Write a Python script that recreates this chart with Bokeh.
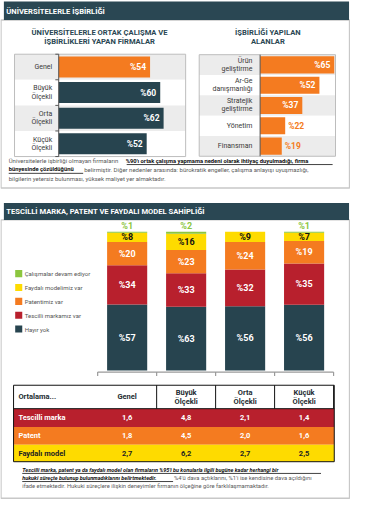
from bokeh.plotting import figure
from bokeh.models import Range1d, ColumnDataSource
from bokeh.embed import file_html
from bokeh.resources import INLINE
from bokeh.core.properties import value

# ---------------- data ----------------
firm_sizes = ["Genel", "Büyük\nÖlçekli", "Orta\nÖlçekli", "Küçük\nÖlçekli"]
coop_share = [54, 60, 62, 52]

areas = ["Ürün\ngeliştirme", "Ar-Ge\ndanışmanlığı", "Stratejik\ngeliştirme", "Yönetim", "Finansman"]
area_share = [65, 52, 37, 22, 19]

ip_categories = ["Genel", "Büyük Ölçekli", "Orta Ölçekli", "Küçük Ölçekli"]
ip_series = ["Hayır yok", "Tescilli markamız var", "Patentimiz var",
             "Faydalı modelimiz var", "Çalışmalar devam ediyor"]
hayir_yok = [57, 63, 56, 56]
marka_var = [34, 33, 32, 35]
patent_var = [20, 23, 24, 19]
faydali_var = [8, 16, 9, 7]
devam_ediyor = [1, 2, 0, 1]

table_header = ["Ortalama...", "Genel", "Büyük\nÖlçekli", "Orta\nÖlçekli", "Küçük\nÖlçekli"]
table_rows = ["Tescilli marka", "Patent", "Faydalı model"]
avg_marka = [1.6, 4.8, 2.1, 1.4]
avg_patent = [1.8, 4.5, 2.0, 1.6]
avg_faydali = [2.7, 6.2, 2.7, 2.5]

# ---------------- style ----------------
DARK = "#27444f"
HEAD = "#2a4753"
ORANGE = "#f47b20"
RED = "#b8202d"
YELLOW = "#fedb00"
GREEN = "#8cc63f"
ROWGREY = "#ececec"
BORDER = "#c8c8c8"
FONT = "Roboto"
HFONT = "Roboto"

XMIN, XMAX = 1.5, 363.5
YMIN, YMAX = 1.0, 512.0

p = figure(width=350, height=499, x_range=Range1d(XMIN, XMAX), y_range=Range1d(YMAX, YMIN),
           output_backend="svg", toolbar_location=None, min_border=0,
           x_axis_location=None, y_axis_location=None, outline_line_color=None,
           background_fill_color="white", border_fill_color="white")
p.grid.visible = False


def txt(x, y, s, size, color, align="left", bold=False, italic=False, font=FONT,
        xr="default", yr="default", xoff=0, yoff=0, lh=None):
    style = ("bold " if bold else "") + ("italic" if italic else "")
    style = style.strip() or "normal"
    lines = s.split("\n")
    n = len(lines)
    lh = lh or size * 1.15
    for k, line in enumerate(lines):
        p.text(x=[x], y=[y], text=[line], x_range_name=xr, y_range_name=yr,
               text_font=value(font), text_font_size=f"{size}px", text_color=color,
               text_align=align, text_baseline="middle", text_font_style=style,
               x_offset=xoff, y_offset=yoff + (k - (n - 1) / 2) * lh)


def box(l, r, t, b, fill=None, line=None, lw=1, xr="default", yr="default"):
    p.quad(left=l, right=r, top=t, bottom=b, fill_color=fill, line_color=line,
           line_width=lw, x_range_name=xr, y_range_name=yr)


# ================= SECTION 1 =================
box(2, 362.5, 21, 193, fill=None, line=BORDER, lw=1.4)
box(5, 362, 2, 21, fill=HEAD)
txt(7.5, 11.8, "ÜNİVERSİTELERLE İŞBİRLİĞİ", 7.6, "white", bold=True, font=HFONT)

txt(104, 38.5, "ÜNİVERSİTELERLE ORTAK ÇALIŞMA VE\nİŞBİRLİKLERİ YAPAN FİRMALAR", 7.6, HEAD,
    align="center", bold=True, font=HFONT, lh=8.6)
txt(278, 38.5, "İŞBİRLİĞİ YAPILAN\nALANLAR", 7.6, HEAD, align="center", bold=True,
    font=HFONT, lh=8.6)

# ---- left horizontal bar chart ----
LX0, LXS = 61.7, 1.75
LY0, LYS = 56.0, 26.2
p.extra_x_ranges["lx"] = Range1d((XMIN - LX0) / LXS, (XMAX - LX0) / LXS)
p.extra_y_ranges["ly"] = Range1d((YMAX - LY0) / LYS, (YMIN - LY0) / LYS)
nL = len(firm_sizes)
for i in range(nL):
    box(16, 193, i, i + 1, fill=ROWGREY if i % 2 == 0 else "white", yr="ly")
srcL = ColumnDataSource(dict(
    y=[i + 0.5 for i in range(nL)], v=coop_share,
    c=[ORANGE] + [DARK] * (nL - 1),
    lab=[f"%{v}" for v in coop_share]))
p.hbar(y="y", left=0, right="v", height=0.82, fill_color="c", line_color=None,
       source=srcL, x_range_name="lx", y_range_name="ly")
p.text(x="v", y="y", text="lab", source=srcL, x_range_name="lx", y_range_name="ly",
       text_font=value(FONT), text_font_size="8.5px", text_font_style="bold",
       text_color="white", text_align="right", text_baseline="middle", x_offset=-4)
box(16, 193, 0, nL, fill=None, line="#bdbdbd", lw=1, yr="ly")
p.segment(x0=0, y0=0, x1=0, y1=nL, x_range_name="lx", y_range_name="ly",
          line_color="#555555", line_width=1)
p.segment(x0=[LX0 - 3.5] * (nL + 1), y0=list(range(nL + 1)), x1=[LX0] * (nL + 1),
          y1=list(range(nL + 1)), y_range_name="ly", line_color="#555555", line_width=1)
for i, lab in enumerate(firm_sizes):
    txt(55, i + 0.5, lab, 7, "#3a3a3a", align="right", yr="ly", lh=8.2)

# ---- right horizontal bar chart ----
RX0, RXS = 270.0, 1.18
RY0, RYS = 56.5, 20.8
p.extra_x_ranges["rx"] = Range1d((XMIN - RX0) / RXS, (XMAX - RX0) / RXS)
p.extra_y_ranges["ry"] = Range1d((YMAX - RY0) / RYS, (YMIN - RY0) / RYS)
nR = len(areas)
for i in range(nR):
    box(207, 348, i, i + 1, fill=ROWGREY if i % 2 == 0 else "white", yr="ry")
p.hbar(y=[i + 0.5 for i in range(nR)], left=0, right=area_share, height=0.84,
       fill_color=ORANGE, line_color=None, x_range_name="rx", y_range_name="ry")
for i, v in enumerate(area_share):
    inside = v >= 30
    p.text(x=[v], y=[i + 0.5], text=[f"%{v}"], x_range_name="rx", y_range_name="ry",
           text_font=value(FONT), text_font_size="8.5px", text_font_style="bold",
           text_color="white" if inside else ORANGE,
           text_align="right" if inside else "left", text_baseline="middle",
           x_offset=-4 if inside else 3)
box(207, 348, 0, nR, fill=None, line="#bdbdbd", lw=1, yr="ry")
p.segment(x0=0, y0=0, x1=0, y1=nR, x_range_name="rx", y_range_name="ry",
          line_color="#555555", line_width=1)
for i, lab in enumerate(areas):
    txt(262, i + 0.5, lab, 7, "#3a3a3a", align="right", yr="ry", lh=8.0)

# ---- footnote 1 ----
FN = "#5a5a5a"
txt(10, 165, "Üniversitelerle işbirliği olmayan firmaların ", 6, FN)
txt(131, 165, " %90'ı ortak çalışma yapmama nedeni olarak ihtiyaç duyulmadığı, firma",
    5.8, "#111111", bold=True)
txt(10, 174, "bünyesinde çözüldüğünü", 5.8, "#111111", bold=True)
txt(88, 174, " belirmiştir. Diğer nedenler arasında: bürokratik engeller, çalışma anlayışı uyuşmazlığı,",
    6, FN)
txt(10, 183, "bilgilerin yetersiz bulunması, yüksek maliyet yer almaktadır.", 6, FN)
p.segment(x0=[132, 10], y0=[169, 178], x1=[345, 87], y1=[169, 178],
          line_color="#111111", line_width=0.8)

# ================= SECTION 2 =================
box(2, 362.5, 225.7, 510.7, fill=None, line=BORDER, lw=1.4)
box(5, 362, 208.3, 225.7, fill=HEAD)
txt(7.5, 217.2, "TESCİLLİ MARKA, PATENT VE FAYDALI MODEL SAHİPLİĞİ", 7.6, "white", bold=True,
    font=HFONT)

# ---- stacked bars (shares normalised to 100 per firm size) ----
SX0, SXS = 102.0, 61.0
SY0, SYS = 380.0, 1.423
p.extra_x_ranges["sx"] = Range1d((XMIN - SX0) / SXS, (XMAX - SX0) / SXS)
p.extra_y_ranges["sy"] = Range1d((SY0 - YMAX) / SYS, (SY0 - YMIN) / SYS)

series_vals = [hayir_yok, marka_var, patent_var, faydali_var, devam_ediyor]
series_cols = [DARK, RED, ORANGE, YELLOW, GREEN]
keys = ["s0", "s1", "s2", "s3", "s4"]
totals = [sum(s[j] for s in series_vals) for j in range(len(ip_categories))]
data = dict(x=[j + 0.5 for j in range(len(ip_categories))])
for k, s in zip(keys, series_vals):
    data[k] = [100.0 * s[j] / totals[j] for j in range(len(ip_categories))]
src = ColumnDataSource(data)
p.vbar_stack(keys, x="x", width=0.68, color=series_cols, line_color=None, source=src,
             x_range_name="sx", y_range_name="sy")

lab_cols = ["white", "white", "white", "#111111"]
for j in range(len(ip_categories)):
    base = 0.0
    for si, k in enumerate(keys):
        h = data[k][j]
        raw = series_vals[si][j]
        if si < 4:
            p.text(x=[j + 0.5], y=[base + h / 2], text=[f"%{raw}"], x_range_name="sx",
                   y_range_name="sy", text_font=value(FONT), text_font_size="9px",
                   text_font_style="bold", text_color=lab_cols[si], text_align="center",
                   text_baseline="middle")
        elif raw > 0:
            p.text(x=[j + 0.5], y=[100], text=[f"%{raw}"], x_range_name="sx",
                   y_range_name="sy", text_font=value(FONT), text_font_size="9px",
                   text_font_style="bold", text_color=GREEN, text_align="center",
                   text_baseline="middle", y_offset=-5.5)
        base += h

nC = len(ip_categories)
p.segment(x0=0, y0=381.5, x1=nC, y1=381.5, x_range_name="sx", line_color="#9a9a9a",
          line_width=1.2)
p.segment(x0=list(range(nC + 1)), y0=[381.5] * (nC + 1), x1=list(range(nC + 1)),
          y1=[385.5] * (nC + 1), x_range_name="sx", line_color="#9a9a9a", line_width=1.2)

# legend
leg_y = [280.7, 294.9, 309.1, 323.3, 337.5]
for yy, name, col in zip(leg_y, ip_series[::-1], series_cols[::-1]):
    box(16.7, 24, yy - 3.6, yy + 3.6, fill=col)
    txt(26.5, yy, name, 6, "#555555")

# ---- table ----
TL, TR = 15.0, 346.7
row_edges = [395.0, 419.0, 437.7, 456.0, 473.3]
row_fills = [RED, ORANGE, YELLOW]
row_text = ["white", "white", "#222222"]
row_vals = [avg_marka, avg_patent, avg_faydali]
for r in range(3):
    box(TL, TR, row_edges[r + 1], row_edges[r + 2], fill=row_fills[r])
box(TL, TR, row_edges[0], row_edges[-1], fill=None, line="#111111", lw=1)
p.segment(x0=TL, y0=row_edges[1], x1=TR, y1=row_edges[1], line_color="#111111", line_width=1)
p.segment(x0=[1, 2, 3, 4], y0=[row_edges[0]] * 4, x1=[1, 2, 3, 4], y1=[row_edges[1]] * 4,
          x_range_name="sx", line_color="#111111", line_width=1)
hy = (row_edges[0] + row_edges[1]) / 2
txt(20, hy, table_header[0], 7.5, "#1e2d33", bold=True)
for j, h in enumerate(table_header[1:]):
    txt(j + 0.5, hy, h, 7.5, "#1e2d33", align="center", bold=True, xr="sx", lh=8.4)
for r in range(3):
    cy = (row_edges[r + 1] + row_edges[r + 2]) / 2
    txt(20, cy, table_rows[r], 7.5, row_text[r], bold=True)
    for j, v in enumerate(row_vals[r]):
        txt(j + 0.5, cy, f"{v:.1f}".replace(".", ","), 7.5, row_text[r], align="center",
            bold=True, xr="sx")

# ---- footnote 2 ----
txt(24, 481.7, "Tescilli marka, patent ya da faydalı model olan firmaların %95'i bu konularla ilgili bugüne kadar herhangi bir",
    5.5, "#111111", bold=True, italic=True)
txt(24, 490, "hukuki süreçte bulunup bulunmadıklarını belirtmektedir.", 5.5, "#111111",
    bold=True, italic=True)
txt(181, 490, " %4'ü dava açtıklarını, %1'i ise kendisine dava açıldığını", 5.8, FN)
txt(24, 498.3, "ifade etmektedir. Hukuki süreçlere ilişkin deneyimler firmanın ölçeğine göre farklılaşmamaktadır.",
    5.8, FN)
p.segment(x0=[24, 24], y0=[485.3, 493.6], x1=[333, 180], y1=[485.3, 493.6],
          line_color="#111111", line_width=0.8)

open("out.html", "w").write(file_html(p, INLINE))
